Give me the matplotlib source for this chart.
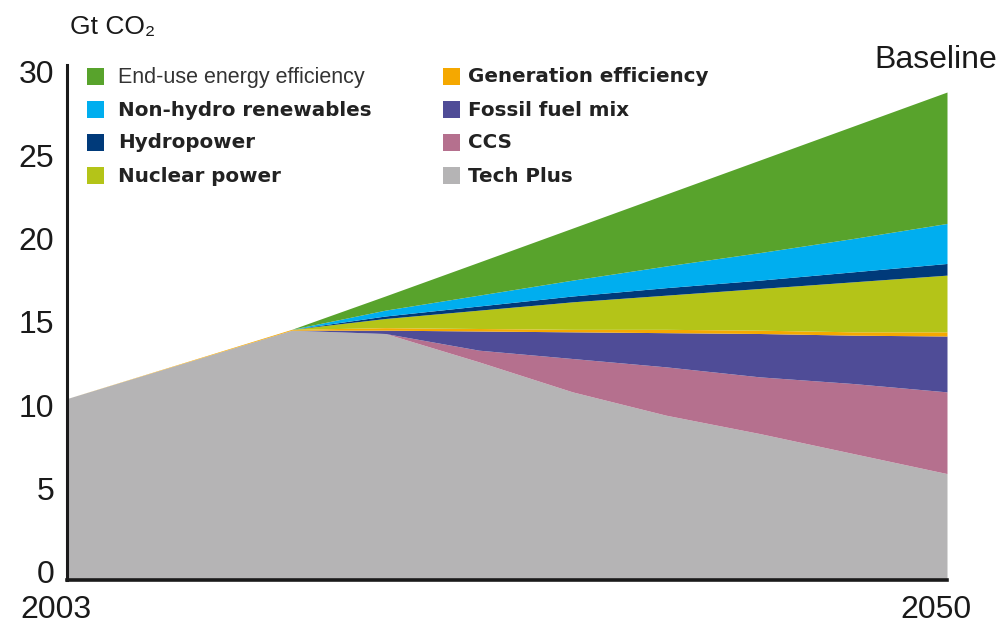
"""Stacked area chart of CO2 emission reductions from baseline to Tech Plus, 2003-2050."""

import matplotlib

matplotlib.use("Agg")

import matplotlib.pyplot as plt
from matplotlib.patches import Rectangle
from matplotlib.transforms import ScaledTranslation


YEARS = [2003, 2015, 2020, 2025, 2030, 2035, 2040, 2045, 2050]

# thickness of each layer, bottom to top (Gt CO2)
TECH_PLUS = [10.4, 14.5, 14.3, 12.6, 10.8, 9.4, 8.3, 7.1, 5.9]
CCS = [0, 0, 0, 0.7, 2.0, 2.9, 3.4, 4.2, 4.9]
FOSSIL_MIX = [0, 0, 0.2, 1.15, 1.6, 2.05, 2.6, 2.9, 3.35]
GENERATION_EFF = [0, 0.05, 0.15, 0.15, 0.15, 0.2, 0.2, 0.2, 0.25]
NUCLEAR = [0, 0, 0.55, 1.1, 1.65, 2.05, 2.5, 3.0, 3.4]
HYDRO = [0, 0, 0.15, 0.25, 0.35, 0.45, 0.5, 0.6, 0.7]
RENEWABLES = [0, 0, 0.35, 0.65, 0.95, 1.3, 1.65, 2.0, 2.4]
END_USE_EFF = [0, 0, 0.85, 1.98, 3.12, 4.31, 5.55, 6.74, 7.88]

LAYERS = [TECH_PLUS, CCS, FOSSIL_MIX, GENERATION_EFF, NUCLEAR, HYDRO, RENEWABLES, END_USE_EFF]

COLORS = {
    "end_use": "#58A32C",
    "renewables": "#00AEEF",
    "hydro": "#003A7A",
    "nuclear": "#B4C418",
    "generation": "#F5A800",
    "fossil": "#4F4C97",
    "ccs": "#B5708E",
    "tech_plus": "#B5B4B5",
}

LAYER_COLORS = [
    COLORS["tech_plus"],
    COLORS["ccs"],
    COLORS["fossil"],
    COLORS["generation"],
    COLORS["nuclear"],
    COLORS["hydro"],
    COLORS["renewables"],
    COLORS["end_use"],
]

LEGEND_LEFT = [
    ("End-use energy efficiency", COLORS["end_use"]),
    ("Non-hydro renewables", COLORS["renewables"]),
    ("Hydropower", COLORS["hydro"]),
    ("Nuclear power", COLORS["nuclear"]),
]
LEGEND_RIGHT = [
    ("Generation efficiency", COLORS["generation"]),
    ("Fossil fuel mix", COLORS["fossil"]),
    ("CCS", COLORS["ccs"]),
    ("Tech Plus", COLORS["tech_plus"]),
]

Y_TICKS = [0, 5, 10, 15, 20, 25, 30]
X_TICKS = [2003, 2050]

W, H = 1001, 626


def px(x, y):
    """pixel position (from top-left) to figure fraction"""
    return x / W, 1 - y / H


def main() -> None:
    plt.rcParams["font.family"] = ["Liberation Sans", "DejaVu Sans"]

    fig = plt.figure(figsize=(W / 100, H / 100), dpi=100)
    ax = fig.add_axes([67 / W, 1 - 580 / H, 880 / W, 515 / H])

    # stack bottom layer from the axis floor so the grey reaches the spine
    y_floor = -0.48
    base = [y_floor] * len(YEARS)
    cum = [0.0] * len(YEARS)
    for layer, color in zip(LAYERS, LAYER_COLORS):
        top = [c + v for c, v in zip(cum, layer)]
        ax.fill_between(YEARS, base, top, color=color, linewidth=0)
        base = top
        cum = top

    ax.set_xlim(2003, 2050)
    ax.set_ylim(y_floor, 30.4)

    for side in ("top", "right"):
        ax.spines[side].set_visible(False)
    ax.spines["left"].set_linewidth(2.2)
    ax.spines["bottom"].set_linewidth(2.6)
    ax.spines["left"].set_color("#1a1a1a")
    ax.spines["bottom"].set_color("#1a1a1a")

    ax.set_yticks(Y_TICKS)
    ax.set_yticklabels([str(v) for v in Y_TICKS])
    ax.set_xticks(X_TICKS)
    ax.set_xticklabels([str(v) for v in X_TICKS])
    ax.tick_params(axis="both", length=0, labelsize=23, colors="#1a1a1a")
    ax.tick_params(axis="y", pad=9)
    ax.tick_params(axis="x", pad=11)
    shift = ScaledTranslation(-11 / 100, 0, fig.dpi_scale_trans)
    for label in ax.get_xticklabels():
        label.set_transform(label.get_transform() + shift)

    fig.text(*px(70, 27), "Gt CO\u2082", fontsize=19, ha="left", va="center", color="#1a1a1a")
    fig.text(*px(997, 60), "Baseline", fontsize=23, ha="right", va="center", color="#1a1a1a")

    # legend, two columns of swatches
    rows_y = [77, 110, 143, 176]
    columns = [(LEGEND_LEFT, 87, 118), (LEGEND_RIGHT, 443, 468)]
    for entries, box_x, text_x in columns:
        for (label, color), row_y in zip(entries, rows_y):
            bx, by = px(box_x, row_y + 8)
            fig.patches.append(
                Rectangle((bx, by), 17 / W, 17 / H, transform=fig.transFigure,
                          facecolor=color, edgecolor="none")
            )
            if label.startswith("End-use"):
                fig.text(*px(text_x, row_y), label, fontsize=15.5,
                         ha="left", va="center", color="#333333")
            else:
                fig.text(*px(text_x, row_y), label, fontsize=14.3, fontweight="bold",
                         family="DejaVu Sans", ha="left", va="center", color="#222222")

    fig.savefig("out.png", dpi=100, facecolor="white")
    plt.close(fig)


if __name__ == "__main__":
    main()
